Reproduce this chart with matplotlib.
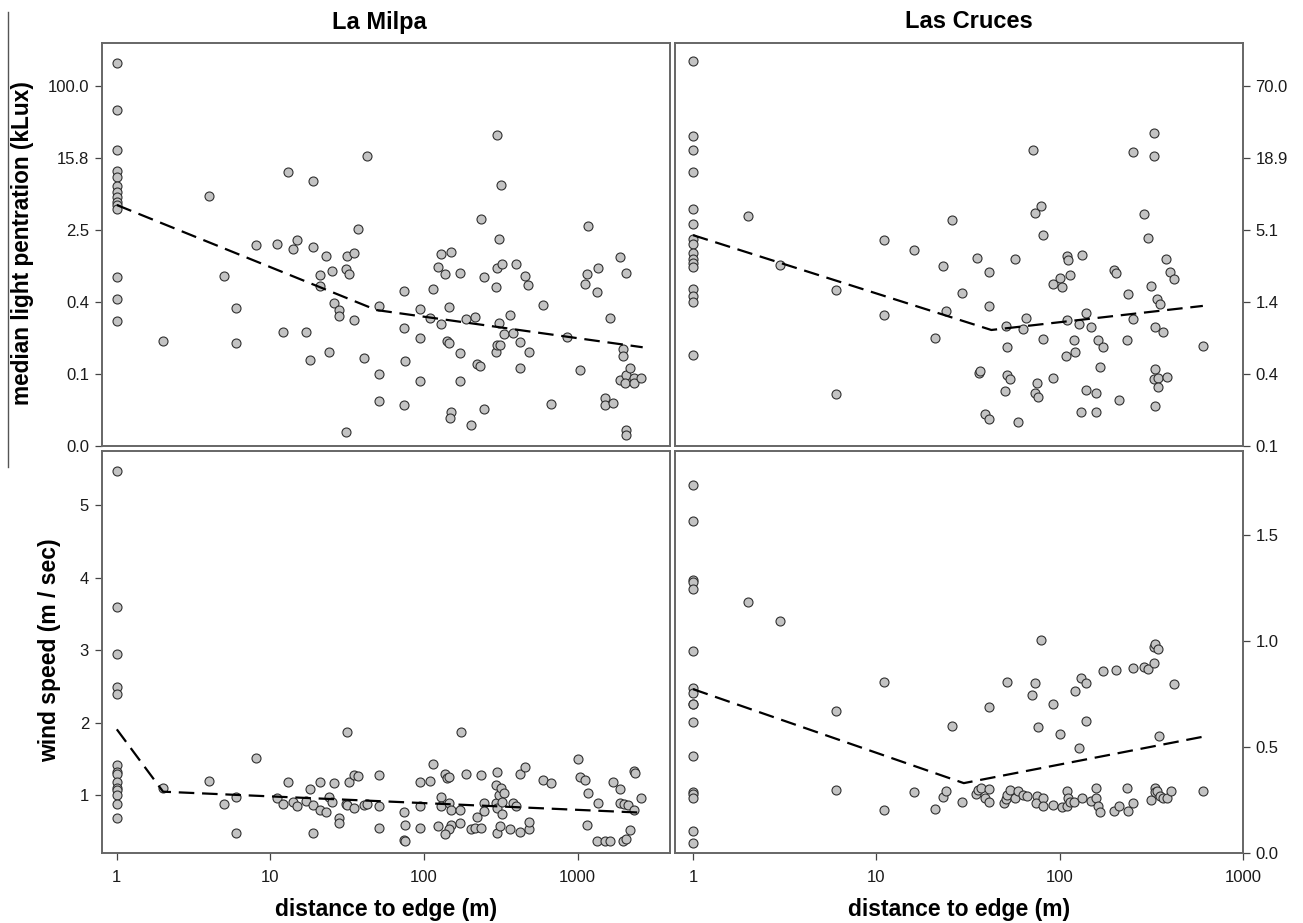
import matplotlib.pyplot as plt
import numpy as np
from matplotlib.lines import Line2D
from matplotlib.ticker import NullLocator

plt.rcParams['font.family'] = ['Liberation Sans', 'DejaVu Sans']

# ---------------- data ----------------
# La Milpa - median light penetration (kLux)
lm_light_dist = [1] * 14 + [
    2, 4, 5, 6, 6, 8, 11, 12, 13, 14,
    15, 17, 18, 19, 19, 21, 21, 23, 24, 25,
    26, 28, 28, 31, 32.5, 31.3, 34.8, 35, 31, 37.3,
    40.5, 42.6, 50.6, 50.6, 50.6, 74.2, 74.5, 75.6, 73.6, 94,
    94, 94, 109, 114, 124, 128, 128, 137, 140, 145,
    146, 149, 149, 148, 172, 172, 172, 187, 203, 216,
    222, 232, 236, 247, 247, 293, 295, 300, 311, 297,
    300, 306, 306, 318, 320, 332, 365, 381, 396, 424,
    424, 452, 472, 484, 592, 668, 849, 1031, 1119, 1148,
    1162, 1361, 1327, 1614, 1514, 1514, 1695, 1900, 2049, 1986,
    1986, 1876, 2049, 2030, 2195, 2337, 2337, 2570, 2049, 2070]
lm_light = [182, 53.7, 19.3, 11.4, 9.84, 7.74, 6.59, 5.89, 5.19, 4.76,
            4.30, 0.748, 0.430, 0.245] + [
    0.147, 6.04, 0.77, 0.339, 0.138, 1.70, 1.77, 0.186, 11.07, 1.56,
    1.96, 0.183, 0.0896, 8.87, 1.64, 0.787, 0.604, 1.29, 0.111, 0.887,
    0.385, 0.322, 0.28, 0.934, 0.814, 1.29, 1.38, 0.254, 0.0142, 2.55,
    0.094, 16.7, 0.362, 0.063, 0.0316, 0.524, 0.205, 0.087, 0.0286, 0.336,
    0.157, 0.0532, 0.267, 0.560, 0.984, 1.36, 0.227, 0.815, 0.145, 0.348,
    0.138, 1.42, 0.0237, 0.0205, 0.83, 0.108, 0.0527, 0.255, 0.0173, 0.271,
    0.0822, 0.0775, 3.30, 0.748, 0.026, 0.589, 0.112, 0.134, 0.134, 0.95,
    28.3, 2.01, 0.231, 7.87, 1.05, 0.175, 0.288, 0.180, 1.05, 0.143,
    0.0736, 0.782, 0.615, 0.112, 0.365, 0.0295, 0.164, 0.0705, 0.625, 0.815,
    2.76, 0.942, 0.514, 0.264, 0.0342, 0.0283, 0.0303, 1.26, 0.843, 0.120,
    0.099, 0.0537, 0.0615, 0.0506, 0.0736, 0.057, 0.0497, 0.057, 0.0151, 0.0131]
lm_light_fit_x = [1, 49, 2650]
lm_light_fit_y = [4.76, 0.324, 0.125]

# Las Cruces - median light penetration (kLux)
lc_light_dist = [1] * 16 + [
    2, 3, 6, 6, 11, 11, 16, 21, 23, 24.1,
    26, 29.2, 35.2, 36.1, 36.8, 39.3, 41.1, 41, 41, 50.2,
    51, 51.3, 51.3, 53.5, 57.1, 59.5, 63.1, 65.9, 71.3, 73.2,
    78.9, 74.8, 73.7, 76.4, 81.4, 81.4, 91.6, 91.6, 101, 103,
    109, 111, 109, 108, 114, 119, 121, 128, 133, 131,
    139, 140, 148, 157, 158, 161, 167, 172, 198, 202,
    210, 232, 236, 250, 251, 288, 303, 314, 326, 328,
    331, 331, 328, 333, 340, 351, 344, 344, 365, 378,
    383, 401, 418, 604]
lc_light = [110, 28.2, 21.8, 14.6, 7.41, 5.68, 4.30, 3.92, 3.33, 3.02,
            2.78, 2.61, 1.74, 1.54, 1.38, 0.520] + [
    6.61, 2.69, 1.71, 0.259, 4.27, 1.078, 3.56, 0.713, 2.64, 1.17,
    6.07, 1.61, 3.08, 0.380, 0.394, 0.179, 0.163, 2.36, 1.28, 0.270,
    0.887, 0.609, 0.364, 0.336, 3.02, 0.155, 0.845, 1.03, 21.8, 6.90,
    7.83, 0.313, 0.264, 0.243, 0.697, 4.62, 0.347, 1.89, 2.11, 1.79,
    3.17, 2.95, 0.99, 0.517, 2.24, 0.684, 0.550, 0.920, 3.23, 0.186,
    1.125, 0.275, 0.867, 0.186, 0.261, 0.684, 0.419, 0.609, 2.46, 2.34,
    0.232, 0.684, 1.59, 21.2, 1.00, 6.81, 4.38, 1.84, 29.6, 19.7,
    0.877, 0.404, 0.336, 0.207, 1.44, 1.32, 0.347, 0.294, 0.791, 3.02,
    0.353, 2.36, 2.10, 0.617]
lc_light_fit_x = [1, 42.4, 604]
lc_light_fit_y = [4.64, 0.826, 1.28]

# La Milpa - wind speed (m / sec)
lm_wind_dist = [1] * 14 + [
    2, 4, 5, 6, 6, 8, 11, 12, 13, 14,
    15, 17, 18, 19, 19, 21, 21, 23, 24, 25,
    26, 28, 28, 31.5, 31, 31.7, 32.5, 34.8, 35, 37.3,
    40.5, 42.6, 50.6, 50.6, 50.6, 74, 74.5, 75.6, 75.6, 94,
    94, 94, 109, 114, 128, 128, 124, 137, 140, 145,
    146, 149, 149, 146, 136, 172, 172, 173, 187, 203,
    216, 222, 236, 236, 247, 247, 293, 297, 295, 300,
    300, 306, 311, 318, 320, 332, 320, 365, 381, 396,
    424, 424, 452, 484, 484, 592, 668, 1000, 1031, 1119,
    1162, 1148, 1361, 1327, 1514, 1614, 1707, 1900, 1900, 2000,
    1986, 2070, 2130, 2195, 2337, 2366, 2337, 2570]
lm_wind = [5.47, 3.59, 2.95, 2.49, 2.40, 1.41, 1.32, 1.29, 1.18, 1.09,
           1.07, 1.0, 0.87, 0.68] + [
    1.092, 1.198, 0.871, 0.977, 0.471, 1.515, 0.963, 0.871, 1.175, 0.903,
    0.853, 0.922, 1.083, 0.862, 0.480, 0.793, 1.175, 0.761, 0.968, 0.899,
    1.170, 0.678, 0.609, 1.874, 0.871, 0.862, 1.184, 1.276, 0.825, 1.262,
    0.857, 0.876, 1.276, 0.853, 0.549, 0.770, 0.379, 0.366, 0.586, 1.175,
    0.853, 0.540, 1.198, 1.423, 0.968, 0.853, 0.577, 1.285, 1.230, 0.885,
    1.253, 0.793, 0.586, 0.531, 0.457, 0.793, 0.609, 1.874, 1.285, 0.526,
    0.549, 0.692, 0.540, 1.276, 0.894, 0.779, 1.138, 1.313, 0.885, 0.825,
    0.471, 1.0, 0.577, 1.101, 0.738, 1.023, 0.899, 0.531, 0.885, 0.853,
    1.290, 0.485, 1.391, 0.526, 0.623, 1.207, 1.170, 1.497, 1.253, 1.207,
    1.023, 0.586, 0.894, 0.370, 0.370, 0.370, 1.184, 1.083, 0.885, 0.871,
    0.370, 0.389, 0.862, 0.517, 1.331, 1.308, 0.793, 0.954]
lm_wind_fit_x = [1, 2, 2650]
lm_wind_fit_y = [1.906, 1.046, 0.756]

# Las Cruces - wind speed (m / sec)
lc_wind_dist = [1] * 17 + [
    2, 3, 6, 6, 11, 11, 16, 21, 23, 24,
    26, 29.2, 35, 36, 37.3, 39.3, 41, 41, 41, 50,
    51, 51.3, 51.3, 53.5, 57, 59.5, 63, 66, 71, 73,
    75, 74, 76, 79, 81, 81, 92, 92, 101, 103,
    109, 111, 109, 114, 119, 121, 128, 131, 133, 139,
    140, 148, 157, 158, 161, 167, 172, 198, 202, 210,
    232, 236, 250, 251, 288, 303, 314, 326, 328, 331,
    331, 333, 340, 344, 347, 351, 365, 383, 404, 418,
    604]
lc_wind = [1.739, 1.570, 1.290, 1.279, 1.245, 0.954, 0.780, 0.757, 0.706,
           0.703, 0.620, 0.460, 0.287, 0.278, 0.262, 0.102, 0.0455] + [
    1.184, 1.094, 0.672, 0.298, 0.808, 0.201, 0.286, 0.207, 0.264, 0.292,
    0.600, 0.243, 0.279, 0.298, 0.306, 0.259, 0.243, 0.301, 0.691, 0.235,
    0.254, 0.808, 0.275, 0.298, 0.262, 0.295, 0.272, 0.270, 0.746, 0.805,
    0.270, 0.235, 0.593, 1.008, 0.259, 0.224, 0.706, 0.228, 0.562, 0.215,
    0.295, 0.259, 0.224, 0.243, 0.239, 0.766, 0.495, 0.827, 0.259, 0.804,
    0.623, 0.246, 0.306, 0.259, 0.223, 0.192, 0.860, 0.199, 0.863, 0.224,
    0.306, 0.199, 0.874, 0.235, 0.879, 0.868, 0.248, 0.895, 0.973, 0.989,
    0.306, 0.286, 0.295, 0.962, 0.554, 0.267, 0.262, 0.259, 0.295, 0.796,
    0.294]
lc_wind_fit_x = [1, 30, 604]
lc_wind_fit_y = [0.774, 0.330, 0.549]

sites = ['La Milpa', 'Las Cruces']
dist_ticks = [1, 10, 100, 1000]
lm_light_ticklabels = ['0.0', '0.1', '0.4', '2.5', '15.8', '100.0']
lc_light_ticklabels = ['0.1', '0.4', '1.4', '5.1', '18.9', '70.0']
lm_wind_ticks = [1, 2, 3, 4, 5]
lc_wind_ticks = [0.0, 0.5, 1.0, 1.5]

# ---------------- figure ----------------
W, H = 1303, 923
fig = plt.figure(figsize=(W / 100, H / 100), dpi=100)


def px_axes(x0, y0, x1, y1):
    return fig.add_axes([x0 / W, 1 - y1 / H, (x1 - x0) / W, (y1 - y0) / H])


ax_tl = px_axes(101.5, 42.7, 670, 446)
ax_tr = px_axes(675, 42.7, 1243, 446)
ax_bl = px_axes(101.5, 450.7, 670, 853)
ax_br = px_axes(675, 450.7, 1243, 853)

frame_col = '#666666'
tick_fs = 12


def panel(ax, x, y, fx, fy, side, xlim, bottom):
    ax.plot(fx, fy, color='black', lw=1.6, dashes=(7, 3.5), zorder=3)
    ax.scatter(x, y, s=42, facecolor='#c3c3c3', edgecolor='#303030',
               linewidths=0.8, zorder=2)
    ax.set_xscale('log')
    ax.set_xlim(xlim)
    for s in ax.spines.values():
        s.set_color(frame_col)
        s.set_linewidth(1.4)
    ax.xaxis.set_minor_locator(NullLocator())
    ax.yaxis.set_minor_locator(NullLocator())
    ax.tick_params(axis='y', which='both', direction='out', length=5,
                   width=0.9, color='#444444', labelsize=tick_fs, pad=4,
                   left=(side == 'left'), labelleft=(side == 'left'),
                   right=(side == 'right'), labelright=(side == 'right'),
                   labelcolor='#1a1a1a')
    if bottom:
        ax.set_xticks(dist_ticks)
        ax.set_xticklabels([str(t) for t in dist_ticks])
        ax.tick_params(axis='x', direction='out', length=5, width=0.9,
                       color='#444444', labelsize=tick_fs, pad=7,
                       labelcolor='#1a1a1a')
    else:
        ax.tick_params(axis='x', bottom=False, labelbottom=False)


# La Milpa light
panel(ax_tl, lm_light_dist, lm_light, lm_light_fit_x, lm_light_fit_y,
      'left', (0.795, 3990), False)
ax_tl.set_yscale('log')
ax_tl.set_ylim(0.01, 10 ** 2.481)
ax_tl.set_yticks([10 ** (-2 + 0.8 * k) for k in range(6)])
ax_tl.set_yticklabels(lm_light_ticklabels)
ax_tl.yaxis.set_minor_locator(NullLocator())

# Las Cruces light
panel(ax_tr, lc_light_dist, lc_light, lc_light_fit_x, lc_light_fit_y,
      'right', (0.798, 1000), False)
ax_tr.set_yscale('log')
r = 700 ** (1 / 5)
ax_tr.set_ylim(0.1, 154)
ax_tr.set_yticks([0.1 * r ** k for k in range(6)])
ax_tr.set_yticklabels(lc_light_ticklabels)
ax_tr.yaxis.set_minor_locator(NullLocator())

# La Milpa wind
panel(ax_bl, lm_wind_dist, lm_wind, lm_wind_fit_x, lm_wind_fit_y,
      'left', (0.795, 3990), True)
ax_bl.set_ylim(0.2, 5.75)
ax_bl.set_yticks(lm_wind_ticks)
ax_bl.set_yticklabels([str(t) for t in lm_wind_ticks])

# Las Cruces wind
panel(ax_br, lc_wind_dist, lc_wind, lc_wind_fit_x, lc_wind_fit_y,
      'right', (0.798, 1000), True)
ax_br.set_ylim(0.0, 1.9)
ax_br.set_yticks(lc_wind_ticks)
ax_br.set_yticklabels(['%.1f' % t for t in lc_wind_ticks])

# titles and labels
fig.text(379 / W, 1 - 22 / H, sites[0], ha='center', va='center',
         fontsize=17, fontweight='bold')
fig.text(969 / W, 1 - 22 / H, sites[1], ha='center', va='center',
         fontsize=17, fontweight='bold')
fig.text(23 / W, 1 - 243 / H, 'median light pentration (kLux)', rotation=90,
         ha='center', va='center', fontsize=16.3, fontweight='bold')
fig.text(50 / W, 1 - 650 / H, 'wind speed (m / sec)', rotation=90,
         ha='center', va='center', fontsize=16.5, fontweight='bold')
fig.text(386 / W, 1 - 916 / H, 'distance to edge (m)', ha='center',
         va='baseline', fontsize=16.5, fontweight='bold')
fig.text(959 / W, 1 - 916 / H, 'distance to edge (m)', ha='center',
         va='baseline', fontsize=16.5, fontweight='bold')

# stray bracket line at the far left
fig.add_artist(Line2D([8 / W, 8 / W], [1 - 12 / H, 1 - 467 / H],
                      transform=fig.transFigure, color='#555555', lw=1.0))

fig.savefig('out.png', dpi=100)
